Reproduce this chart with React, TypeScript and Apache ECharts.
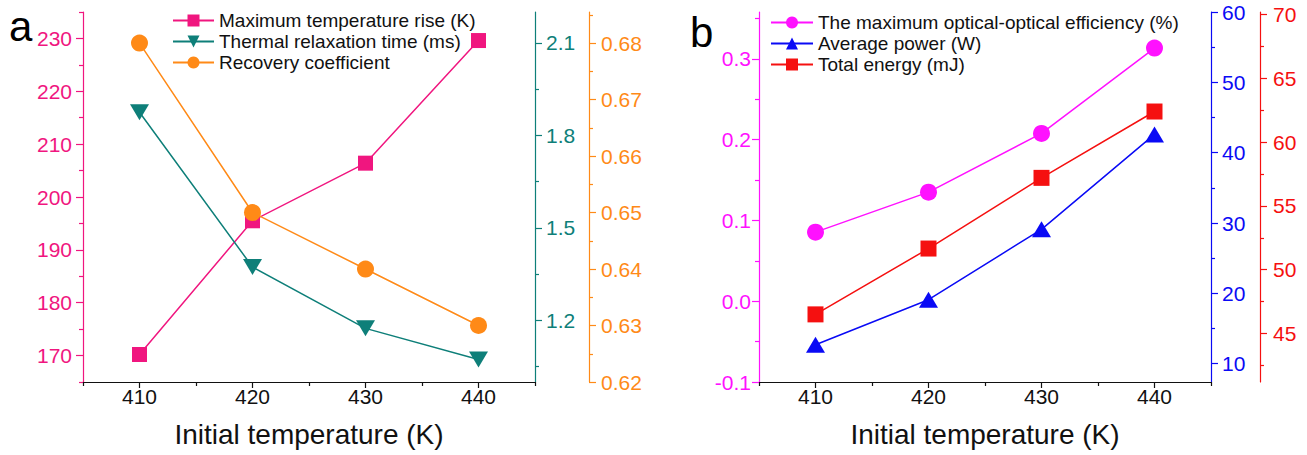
import React, { useEffect, useRef } from "react";
import * as echarts from "echarts";

// ---- Data ----
const temps = [410, 420, 430, 440];
// Panel a
const maxTempRise = [170.2, 195.5, 206.4, 229.6];
const relaxTime = [1.875, 1.373, 1.174, 1.073];
const recoveryCoef = [0.68, 0.65, 0.64, 0.63];
// Panel b
const efficiency = [0.0855, 0.135, 0.2077, 0.3133];
const avgPower = [12.7, 19.1, 29.1, 42.6];
const totalEnergy = [46.5, 51.66, 57.2, 62.4];

// Tick labels
const xLabels = [410, 420, 430, 440];
const xMinor = [405, 415, 425, 435, 445];
const pinkMajor = [170, 180, 190, 200, 210, 220, 230];
const pinkMinor = [165, 175, 185, 195, 205, 215, 225, 235];
const tealMajor = [1.2, 1.5, 1.8, 2.1];
const tealMinor = [1.05, 1.35, 1.65, 1.95];
const orangeMajor = [0.62, 0.63, 0.64, 0.65, 0.66, 0.67, 0.68];
const orangeMinor = [0.625, 0.635, 0.645, 0.655, 0.665, 0.675, 0.685];
const magMajor = [-0.1, 0.0, 0.1, 0.2, 0.3];
const magMinor = [-0.05, 0.05, 0.15, 0.25, 0.35];
const blueMajor = [10, 20, 30, 40, 50, 60];
const blueMinor = [15, 25, 35, 45, 55];
const redMajor = [45, 50, 55, 60, 65, 70];
const redMinor = [42.5, 47.5, 52.5, 57.5, 62.5, 67.5];

const FONT = "'Liberation Sans', Arial, Helvetica, sans-serif";
const PINK = "#F0167F";
const TEAL = "#0E7F79";
const ORANGE = "#FF8A17";
const MAGENTA = "#FF11FF";
const BLUE = "#0A0AF5";
const RED = "#F51010";
const TICK_FS = 21;

const pair = (ys: number[]) => temps.map((t, i) => [t, ys[i]]);

function yAxisPair(opts: {
  grid: number;
  position: "left" | "right";
  offset: number;
  min: number;
  max: number;
  color: string;
  major: number[];
  minor: number[];
  decimals: number;
  margin: number;
}) {
  const main = {
    type: "value",
    gridIndex: opts.grid,
    position: opts.position,
    offset: opts.offset,
    min: opts.min,
    max: opts.max,
    splitLine: { show: false },
    axisLine: { show: true, onZero: false, lineStyle: { color: opts.color, width: 1.2 } },
    axisTick: {
      show: true,
      length: 7,
      customValues: opts.major,
      lineStyle: { color: opts.color, width: 1.2 },
    },
    axisLabel: {
      show: true,
      customValues: opts.major,
      color: opts.color,
      fontFamily: FONT,
      fontSize: TICK_FS,
      margin: opts.margin,
      formatter: (v: number) => Number(v).toFixed(opts.decimals),
    },
  };
  const minor = {
    type: "value",
    gridIndex: opts.grid,
    position: opts.position,
    offset: opts.offset,
    min: opts.min,
    max: opts.max,
    splitLine: { show: false },
    axisLine: { show: false, onZero: false },
    axisTick: {
      show: true,
      length: 4,
      customValues: opts.minor,
      lineStyle: { color: opts.color, width: 1.2 },
    },
    axisLabel: { show: false },
  };
  return [main, minor];
}

function xAxisMain(grid: number) {
  return {
    type: "value",
    gridIndex: grid,
    min: 405,
    max: 445,
    position: "bottom",
    splitLine: { show: false },
    axisLine: { show: true, onZero: false, lineStyle: { color: "#111", width: 1.2 } },
    axisTick: { show: true, length: 6, customValues: xLabels, lineStyle: { color: "#111", width: 1.2 } },
    axisLabel: {
      customValues: xLabels,
      color: "#111",
      fontFamily: FONT,
      fontSize: TICK_FS,
      margin: 4,
      formatter: (v: number) => String(v),
    },
    name: "Initial temperature (K)",
    nameLocation: "middle",
    nameGap: 38,
    nameTextStyle: { color: "#111", fontFamily: FONT, fontSize: 28 },
  };
}

function xAxisMinor(grid: number) {
  return {
    type: "value",
    gridIndex: grid,
    min: 405,
    max: 445,
    position: "bottom",
    splitLine: { show: false },
    axisLine: { show: false, onZero: false },
    axisTick: { show: true, length: 4, customValues: xMinor, lineStyle: { color: "#111", width: 1.2 } },
    axisLabel: { show: false },
  };
}

function lineSeries(
  name: string,
  data: number[],
  color: string,
  xIdx: number,
  yIdx: number,
  symbol: string,
  size: number | number[],
  rotate = 0
) {
  return {
    type: "line",
    name,
    data: pair(data),
    xAxisIndex: xIdx,
    yAxisIndex: yIdx,
    symbol,
    symbolSize: size,
    symbolRotate: rotate,
    showAllSymbol: true,
    lineStyle: { color, width: 1.5 },
    itemStyle: { color, borderWidth: 0 },
    z: 3,
  };
}

export default function App() {
  const ref = useRef<HTMLDivElement>(null);
  useEffect(() => {
    if (!ref.current) return;
    const chart = echarts.init(ref.current, undefined, { renderer: "svg" });

    const yAxes = [
      ...yAxisPair({ grid: 0, position: "left", offset: 0, min: 165, max: 235, color: PINK, major: pinkMajor, minor: pinkMinor, decimals: 0, margin: 11 }),
      ...yAxisPair({ grid: 0, position: "right", offset: 0, min: 1.0, max: 2.2, color: TEAL, major: tealMajor, minor: tealMinor, decimals: 1, margin: 11 }),
      ...yAxisPair({ grid: 0, position: "right", offset: 54, min: 0.62, max: 0.6855, color: ORANGE, major: orangeMajor, minor: orangeMinor, decimals: 2, margin: 12 }),
      ...yAxisPair({ grid: 1, position: "left", offset: 0, min: -0.1, max: 0.358, color: MAGENTA, major: magMajor, minor: magMinor, decimals: 1, margin: 8 }),
      ...yAxisPair({ grid: 1, position: "right", offset: 0, min: 7.4, max: 60, color: BLUE, major: blueMajor, minor: blueMinor, decimals: 0, margin: 11 }),
      ...yAxisPair({ grid: 1, position: "right", offset: 49, min: 41.2, max: 70.2, color: RED, major: redMajor, minor: redMinor, decimals: 0, margin: 13 }),
    ];

    chart.setOption({
      animation: false,
      backgroundColor: "#ffffff",
      textStyle: { fontFamily: FONT },
      grid: [
        { left: 83, top: 12, width: 452, height: 370 },
        { left: 759, top: 12, width: 452, height: 370 },
      ],
      xAxis: [xAxisMain(0), xAxisMain(1), xAxisMinor(0), xAxisMinor(1)],
      yAxis: yAxes,
      legend: [
        {
          left: 172,
          top: 11,
          orient: "vertical",
          padding: 0,
          itemGap: 2,
          itemWidth: 41,
          itemHeight: 15,
          textStyle: { fontFamily: FONT, fontSize: 19, color: "#111" },
          data: ["Maximum temperature rise (K)", "Thermal relaxation time (ms)", "Recovery coefficient"],
        },
        {
          left: 770,
          top: 13,
          orient: "vertical",
          padding: 0,
          itemGap: 2,
          itemWidth: 42,
          itemHeight: 15,
          textStyle: { fontFamily: FONT, fontSize: 19, color: "#111" },
          data: ["The maximum optical-optical efficiency (%)", "Average power (W)", "Total energy (mJ)"],
        },
      ],
      graphic: [
        { type: "text", left: 9, top: 5, style: { text: "a", font: `42px ${FONT}`, fill: "#000" } },
        { type: "text", left: 690, top: 11, style: { text: "b", font: `42px ${FONT}`, fill: "#000" } },
      ],
      series: [
        lineSeries("Maximum temperature rise (K)", maxTempRise, PINK, 0, 0, "rect", 15),
        lineSeries("Thermal relaxation time (ms)", relaxTime, TEAL, 0, 2, "triangle", [19, 16], 180),
        lineSeries("Recovery coefficient", recoveryCoef, ORANGE, 0, 4, "circle", 17),
        lineSeries("The maximum optical-optical efficiency (%)", efficiency, MAGENTA, 1, 6, "circle", 17),
        lineSeries("Average power (W)", avgPower, BLUE, 1, 8, "triangle", [19, 16]),
        lineSeries("Total energy (mJ)", totalEnergy, RED, 1, 10, "rect", 16),
      ],
    });
    return () => chart.dispose();
  }, []);
  return (
    <div
      ref={ref}
      style={{ position: "fixed", left: 0, top: 0, width: 1307, height: 455, background: "#fff" }}
    />
  );
}
